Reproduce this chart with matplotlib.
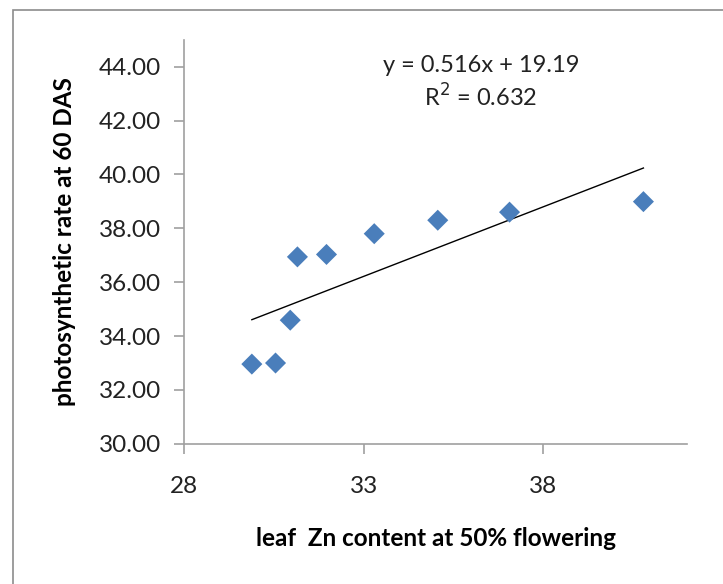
import numpy as np
import matplotlib
matplotlib.use("Agg")
import matplotlib.pyplot as plt
from matplotlib.patches import Rectangle

# values
zn_content = [29.88, 30.54, 30.95, 31.15, 31.96, 33.29, 35.06, 37.06, 40.79]
photo_rate = [32.96, 33.00, 34.59, 36.94, 37.03, 37.80, 38.30, 38.60, 38.99]
slope = 0.516
intercept = 19.19
eq_text = "y = 0.516x + 19.19"
r2_text = "R$^2$ = 0.632"
x_ticks = [28, 33, 38]
y_ticks = [30, 32, 34, 36, 38, 40, 42, 44]

plt.rcParams['font.family'] = ['Lato', 'DejaVu Sans']

fig = plt.figure(figsize=(7.23, 5.84), dpi=100)
fig.patches.append(Rectangle((13 / 723, -0.1), 1.2, 1 - 10 / 584 + 0.1,
                             transform=fig.transFigure, fill=False,
                             edgecolor='#8c8c8c', linewidth=1.2))

ax = fig.add_axes([0.255, 0.240, 0.695, 0.692])

ax.scatter(zn_content, photo_rate, marker='D', s=115, color='#4a7ebb',
           edgecolors='none', zorder=3)

# linear trendline over the data range
xs = np.array([min(zn_content), max(zn_content)])
ax.plot(xs, slope * xs + intercept, color='black', linewidth=1.0, zorder=2)

ax.set_xlim(28, 42)
ax.set_ylim(30, 45)
ax.set_xticks(x_ticks)
ax.set_yticks(y_ticks)
ax.set_yticklabels([f"{v:.2f}" for v in y_ticks])

for side in ['top', 'right']:
    ax.spines[side].set_visible(False)
for side in ['left', 'bottom']:
    ax.spines[side].set_color('#a0a0a0')
    ax.spines[side].set_linewidth(1.2)

ax.tick_params(axis='both', direction='out', color='#a0a0a0', length=7,
               width=1.2, labelsize=17.5, labelcolor='#222222')
ax.tick_params(axis='x', pad=16)
ax.tick_params(axis='y', pad=10)

ax.set_xlabel("leaf  Zn content at 50% flowering", fontsize=17.5,
              fontweight='bold', labelpad=22)
ax.set_ylabel("photosynthetic rate at 60 DAS", fontsize=17.5,
              fontweight='bold', labelpad=16)

ax.text(0.59, 0.937, eq_text, transform=ax.transAxes, ha='center',
        va='center', fontsize=17, color='#222222')
ax.text(0.59, 0.858, r2_text, transform=ax.transAxes, ha='center',
        va='center', fontsize=17, color='#222222')

fig.savefig("out.png", dpi=100)
